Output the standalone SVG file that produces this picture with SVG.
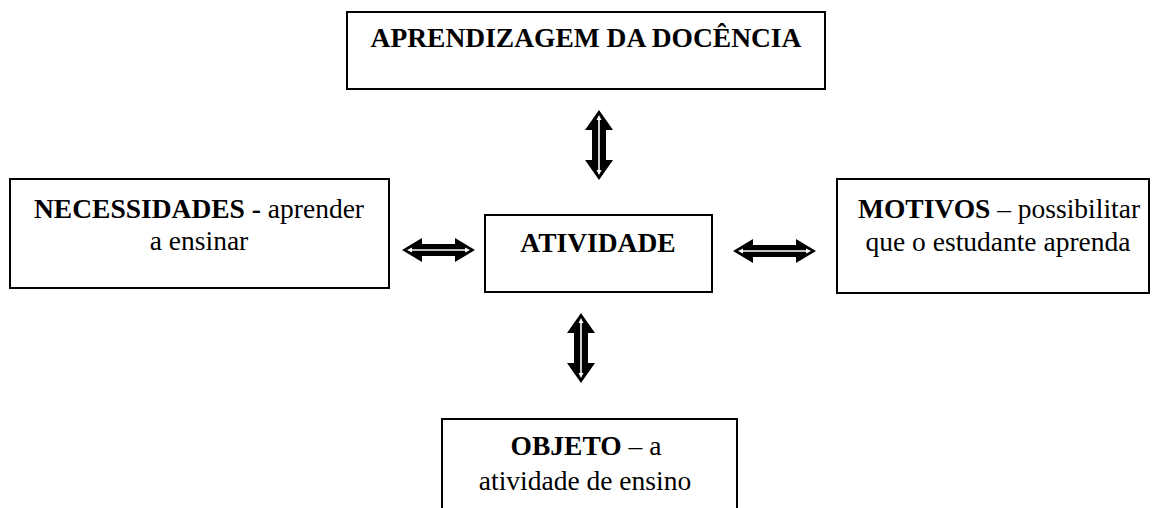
<svg xmlns="http://www.w3.org/2000/svg" width="1158" height="508" viewBox="0 0 1158 508">
<style>
  .box { fill: #ffffff; stroke: #000000; stroke-width: 2; }
  .t { font-family: "Liberation Serif", "Times New Roman", serif; font-size: 27.5px; fill: #000000; text-anchor: middle; }
  .b { font-weight: bold; }
  .arrow { fill: #000000; }
  .inner { stroke: #ffffff; stroke-width: 1.6; fill: none; }
  .innerhead { fill: #ffffff; }
</style>
<rect width="1158" height="508" fill="#ffffff"/>
<g id="connectors">
  <g id="arrow-top">
    <path class="arrow" d="M599,110 L613,130 L606,130 L606,160 L613,160 L599,180 L585,160 L592,160 L592,130 L585,130 Z"/>
    <line class="inner" x1="599" y1="119" x2="599" y2="171"/>
    <polygon class="innerhead" points="599,115 601.5,120 596.5,120"/>
    <polygon class="innerhead" points="599,175 601.5,170 596.5,170"/>
  </g>
  <g id="arrow-bottom">
    <path class="arrow" d="M581,313 L595,333 L588,333 L588,363 L595,363 L581,383 L567,363 L574,363 L574,333 L567,333 Z"/>
    <line class="inner" x1="581" y1="322" x2="581" y2="374"/>
    <polygon class="innerhead" points="581,318 583.5,323 578.5,323"/>
    <polygon class="innerhead" points="581,378 583.5,373 578.5,373"/>
  </g>
  <g id="arrow-left">
    <path class="arrow" d="M402,250 L422,238 L422,244 L455,244 L455,238 L475,250 L455,262 L455,256 L422,256 L422,262 Z"/>
    <line class="inner" x1="411" y1="250" x2="466" y2="250"/>
    <polygon class="innerhead" points="407,250 412,247.5 412,252.5"/>
    <polygon class="innerhead" points="470,250 465,247.5 465,252.5"/>
  </g>
  <g id="arrow-right">
    <path class="arrow" d="M733,251 L753,239 L753,245 L796,245 L796,239 L816,251 L796,263 L796,257 L753,257 L753,263 Z"/>
    <line class="inner" x1="742" y1="251" x2="807" y2="251"/>
    <polygon class="innerhead" points="738,251 743,248.5 743,253.5"/>
    <polygon class="innerhead" points="811,251 806,248.5 806,253.5"/>
  </g>
</g>
<g id="node-aprendizagem">
  <rect class="box" x="347" y="12" width="478" height="77"/>
  <text class="t b" x="586" y="47">APRENDIZAGEM DA DOCÊNCIA</text>
</g>
<g id="node-necessidades">
  <rect class="box" x="10" y="179" width="379" height="109"/>
  <text class="t" x="199" y="218"><tspan class="b">NECESSIDADES -</tspan> aprender</text>
  <text class="t" x="199" y="250">a ensinar</text>
</g>
<g id="node-atividade">
  <rect class="box" x="485" y="215" width="227" height="77"/>
  <text class="t b" x="598" y="252">ATIVIDADE</text>
</g>
<g id="node-motivos">
  <rect class="box" x="837" y="179" width="312" height="114"/>
  <text class="t" x="999" y="218"><tspan class="b">MOTIVOS</tspan> – possibilitar</text>
  <text class="t" x="998" y="251">que o estudante aprenda</text>
</g>
<g id="node-objeto">
  <rect class="box" x="442" y="419" width="295" height="100"/>
  <text class="t" x="586" y="455"><tspan class="b">OBJETO</tspan> – a</text>
  <text class="t" x="585" y="490">atividade de ensino</text>
</g>
</svg>
